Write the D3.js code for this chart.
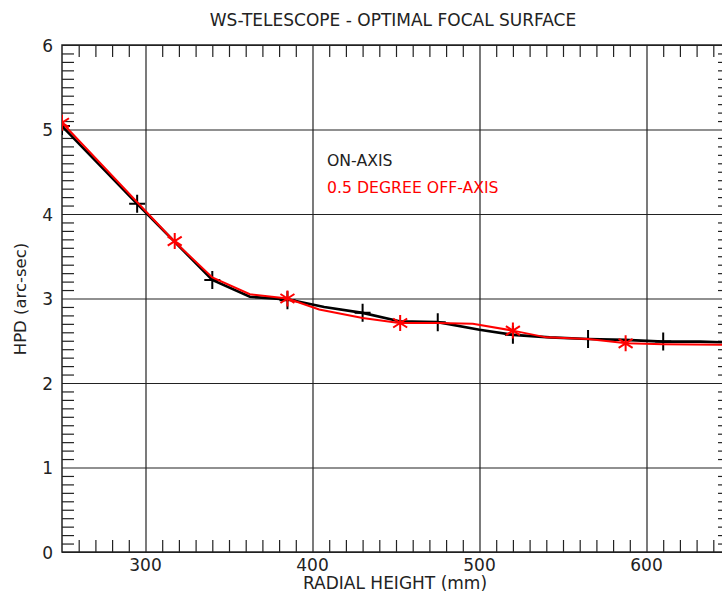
<!DOCTYPE html>
<html>
<head>
<meta charset="utf-8">
<script src="https://cdn.jsdelivr.net/npm/d3@7"></script>
<style>
  body { margin: 0; background: #fff; }
  text { font-family: "DejaVu Sans", sans-serif; fill: #222; }
</style>
</head>
<body>
<div id="chart"></div>
<script>
// WS-Telescope HPD vs radial height

const onLineX = [250, 295, 340, 362.5, 385, 407, 430, 452, 475, 500, 520, 542, 565, 587, 610, 632, 650];
const onLineY = [5.04, 4.12, 3.22, 3.02, 2.99, 2.90, 2.83, 2.73, 2.72, 2.63, 2.57, 2.54, 2.52, 2.51, 2.49, 2.49, 2.48];
const onMarkX = [250, 295, 340, 385, 430, 475, 520, 565, 610];
const onMarkY = [5.04, 4.12, 3.22, 2.98, 2.83, 2.72, 2.57, 2.52, 2.49];

const offLineX = [250, 317, 340, 362.5, 385, 404, 430, 452, 475, 496, 520, 540, 565, 588, 610, 650];
const offLineY = [5.08, 3.68, 3.25, 3.05, 3.00, 2.87, 2.77, 2.71, 2.71, 2.70, 2.62, 2.54, 2.52, 2.47, 2.46, 2.45];
const offMarkX = [250, 317.5, 385, 452.5, 520, 587.5];
const offMarkY = [5.08, 3.68, 3.00, 2.71, 2.62, 2.47];

const xMajor = [300, 400, 500, 600];
const yMajor = [0, 1, 2, 3, 4, 5, 6];
const xMinor = d3.range(260, 650, 10).filter(v => v % 100 !== 0);
const yMinor = d3.range(1, 60).filter(v => v % 10 !== 0).map(v => v / 10);

const width = 722, height = 593;
const pLeft = 62, pRight = 730, pTop = 45, pBottom = 552;

const svg = d3.select("#chart").append("svg")
    .attr("width", width)
    .attr("height", height);

const x = d3.scaleLinear().domain([250, 650]).range([pLeft, pRight]);
const y = d3.scaleLinear().domain([0, 6]).range([pBottom, pTop]);

svg.append("defs").append("clipPath").attr("id", "plot")
    .append("rect")
    .attr("x", pLeft).attr("y", pTop)
    .attr("width", pRight - pLeft).attr("height", pBottom - pTop);

// gridlines
svg.append("g")
    .attr("transform", `translate(0,${pBottom})`)
    .call(d3.axisBottom(x).tickValues(xMajor).tickSize(-(pBottom - pTop)).tickFormat(""))
    .call(g => g.select(".domain").remove());
svg.append("g")
    .attr("transform", `translate(${pLeft},0)`)
    .call(d3.axisLeft(y).tickValues(yMajor).tickSize(-(pRight - pLeft)).tickFormat(""))
    .call(g => g.select(".domain").remove());

// minor ticks on all four sides
const minor = [
    [d3.axisBottom(x).tickValues(xMinor).tickSize(-12), `translate(0,${pBottom})`],
    [d3.axisTop(x).tickValues(xMinor).tickSize(-12), `translate(0,${pTop})`],
    [d3.axisLeft(y).tickValues(yMinor).tickSize(-12), `translate(${pLeft},0)`],
    [d3.axisRight(y).tickValues(yMinor).tickSize(-12), `translate(${pRight},0)`]
];
minor.forEach(([ax, tr]) => {
    svg.append("g").attr("transform", tr)
        .call(ax.tickFormat(""))
        .call(g => g.select(".domain").remove());
});

svg.selectAll(".tick line").attr("stroke", "#222").attr("stroke-width", 1.2);

// frame
svg.append("rect")
    .attr("x", pLeft).attr("y", pTop)
    .attr("width", pRight - pLeft).attr("height", pBottom - pTop)
    .attr("fill", "none").attr("stroke", "#222").attr("stroke-width", 1.5);

// tick labels
svg.append("g").selectAll("text")
    .data(xMajor).enter().append("text")
    .attr("x", d => x(d)).attr("y", pBottom + 19)
    .attr("text-anchor", "middle")
    .style("font-size", "17px")
    .text(d => d);
svg.append("g").selectAll("text")
    .data(yMajor).enter().append("text")
    .attr("x", pLeft - 9).attr("y", d => y(d) + 6.5)
    .attr("text-anchor", "end")
    .style("font-size", "17px")
    .text(d => d);

// titles
svg.append("text")
    .attr("x", 393).attr("y", 26)
    .attr("text-anchor", "middle")
    .style("font-size", "17px")
    .text("WS-TELESCOPE - OPTIMAL FOCAL SURFACE");
svg.append("text")
    .attr("x", 395).attr("y", 589)
    .attr("text-anchor", "middle")
    .style("font-size", "17px")
    .text("RADIAL HEIGHT (mm)");
svg.append("text")
    .attr("transform", `translate(26,299) rotate(-90)`)
    .attr("text-anchor", "middle")
    .style("font-size", "16.5px")
    .text("HPD (arc-sec)");

// curves
const plot = svg.append("g").attr("clip-path", "url(#plot)");
const line = d3.line().x(d => x(d[0])).y(d => y(d[1]));

plot.append("path")
    .datum(d3.zip(onLineX, onLineY))
    .attr("d", line)
    .attr("fill", "none").attr("stroke", "#000").attr("stroke-width", 2.6);

plot.selectAll(".plus")
    .data(d3.zip(onMarkX, onMarkY)).enter().append("path")
    .attr("class", "plus")
    .attr("transform", d => `translate(${x(d[0])},${y(d[1])})`)
    .attr("d", "M-8,0H8M0,-9V9")
    .attr("stroke", "#000").attr("stroke-width", 2);

plot.append("path")
    .datum(d3.zip(offLineX, offLineY))
    .attr("d", line)
    .attr("fill", "none").attr("stroke", "#ff0000").attr("stroke-width", 2);

plot.selectAll(".star")
    .data(d3.zip(offMarkX, offMarkY)).enter().append("path")
    .attr("class", "star")
    .attr("transform", d => `translate(${x(d[0])},${y(d[1])})`)
    .attr("d", "M0,-8V8M-7,-4.5L7,4.5M-7,4.5L7,-4.5")
    .attr("stroke", "#ff0000").attr("stroke-width", 2);

// legend
svg.append("text")
    .attr("x", 327).attr("y", 166)
    .style("font-size", "15.7px")
    .text("ON-AXIS");
svg.append("text")
    .attr("x", 327).attr("y", 193)
    .style("font-size", "15.7px")
    .style("fill", "#ff0000")
    .text("0.5 DEGREE OFF-AXIS");
</script>
</body>
</html>
